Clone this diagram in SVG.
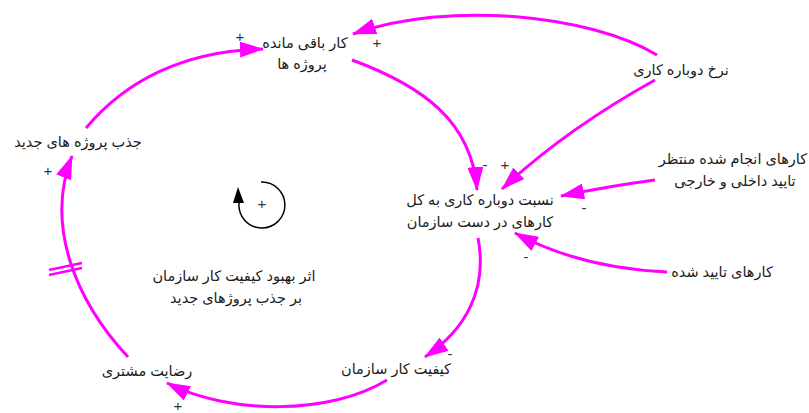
<svg xmlns="http://www.w3.org/2000/svg" width="809" height="413" viewBox="0 0 809 413">
<style>
text{font-family:"Liberation Sans","DejaVu Sans",Arial,sans-serif;font-size:14.5px;fill:#1a1a1a;text-anchor:middle}
.lbl{direction:rtl}
.sign{font-size:15px;fill:#333}
.link{fill:none;stroke:#ff00ff;stroke-width:3;marker-end:url(#ah)}
</style>
<defs>
<marker id="ah" markerUnits="userSpaceOnUse" markerWidth="24" markerHeight="16" refX="23" refY="8" orient="auto" viewBox="0 0 24 16">
<path d="M0,0 L24,8 L0,16 z" fill="#ff00ff"/>
</marker>
</defs>
<rect width="809" height="413" fill="#fff"/>
<g id="connectors">
<path class="link" d="M86,128 Q150,52 263,49"/>
<path class="link" d="M657,55 C590,15 450,0 353,34"/>
<path class="link" d="M352,60 C420,85 472,120 477,190"/>
<path class="link" d="M655,80 Q565,130 502,189"/>
<path class="link" d="M655,180 Q610,186 561,196"/>
<path class="link" d="M667,272 Q580,268 515,233"/>
<path class="link" d="M478,238 C488,290 465,330 425,357"/>
<path class="link" d="M387,380 C330,415 230,415 167,383"/>
<path class="link" d="M128,357 C75,300 45,225 72,156"/>
<g stroke="#ff00ff" stroke-width="2.5">
<line x1="49" y1="270" x2="82" y2="263"/>
<line x1="49" y1="275" x2="82" y2="268"/>
</g>
<text class="sign" x="240" y="42">+</text>
<text class="sign" x="377" y="48">+</text>
<text class="sign" x="485" y="170">-</text>
<text class="sign" x="505" y="170">+</text>
<text class="sign" x="584" y="213">-</text>
<text class="sign" x="526" y="262">-</text>
<text class="sign" x="450" y="359">-</text>
<text class="sign" x="178" y="411">+</text>
<text class="sign" x="48" y="176">+</text>
</g>
<g id="loop">
<path d="M261,182 A23,23 0 1 1 239,203" fill="none" stroke="#000" stroke-width="1.5"/>
<polygon points="238,187 233,203 244,203" fill="#000"/>
<text class="sign" x="262" y="209">+</text>
</g>
<g id="n-remaining">
<text class="lbl" x="305" y="48">کار باقی مانده</text>
<text class="lbl" x="302" y="69">پروژه ها</text>
</g>
<g id="n-rework-rate">
<text class="lbl" x="681" y="75">نرخ دوباره کاری</text>
</g>
<g id="n-ratio">
<text class="lbl" x="480" y="205">نسبت دوباره کاری به کل</text>
<text class="lbl" x="480" y="227">کارهای در دست سازمان</text>
</g>
<g id="n-pending">
<text class="lbl" x="733" y="164">کارهای انجام شده منتظر</text>
<text class="lbl" x="735" y="186">تایید داخلی و خارجی</text>
</g>
<g id="n-approved">
<text class="lbl" x="722" y="277">کارهای تایید شده</text>
</g>
<g id="n-attract">
<text class="lbl" x="78" y="147">جذب پروژه های جدید</text>
</g>
<g id="n-effect">
<text class="lbl" x="234" y="281">اثر بهبود کیفیت کار سازمان</text>
<text class="lbl" x="236" y="303">بر جذب پروژهای جدید</text>
</g>
<g id="n-satisfaction">
<text class="lbl" x="147" y="376">رضایت مشتری</text>
</g>
<g id="n-quality">
<text class="lbl" x="396" y="374">کیفیت کار سازمان</text>
</g>
</svg>
